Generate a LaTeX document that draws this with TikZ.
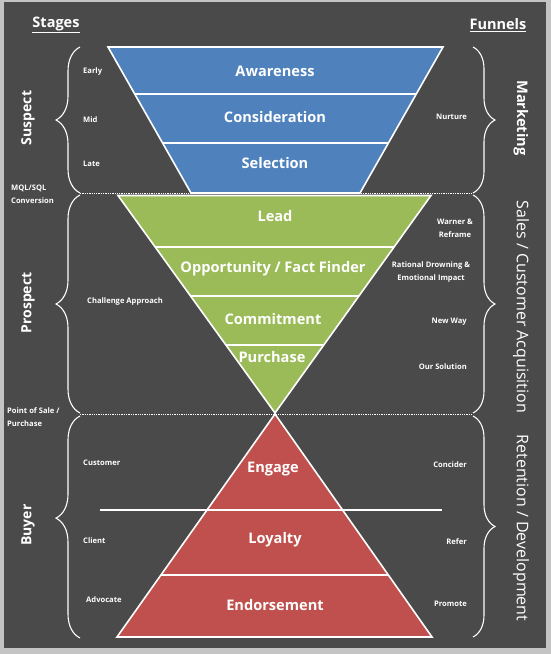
\documentclass[tikz,border=0pt]{standalone}
\usepackage{fontspec}
\setmainfont{Open Sans}
\usetikzlibrary{decorations.pathreplacing}

\definecolor{bgdark}{HTML}{4A4A4A}
\definecolor{edgegray}{HTML}{C4C4C4}
\definecolor{fblue}{HTML}{4F81BD}
\definecolor{fgreen}{HTML}{9BBB59}
\definecolor{fred}{HTML}{C0504D}

\begin{document}
\begin{tikzpicture}[x=1pt,y=-1pt,
  shape outline/.style={draw=white, line width=1.6pt, line join=miter},
  divider/.style={draw=white, line width=1.6pt},
  dotline/.style={draw=white, line width=1.3pt, dash pattern=on 1.3pt off 1pt},
  bracket/.style={draw=white, line width=1.1pt, decorate,
    decoration={brace, amplitude=#1}},
  bracket/.default=24pt,
  tierlabel/.style={text=white, font=\bfseries\fontsize{14.6}{16}\selectfont, inner sep=0pt},
  heading/.style={text=white, font=\bfseries\fontsize{14.5}{16}\selectfont, inner sep=0pt},
  stagename/.style={text=white, font=\bfseries\fontsize{14}{16}\selectfont, rotate=90, inner sep=0pt},
  funnelname/.style={text=white, font=\fontsize{16}{18}\selectfont, rotate=-90, inner sep=0pt},
  note/.style={text=white, font=\bfseries\fontsize{7.6}{13}\selectfont, inner sep=0pt},
]
\useasboundingbox (0,0) rectangle (551,654);

% frame and panel
\fill[edgegray] (0,0) rectangle (551,654);
\fill[bgdark] (4,2) rectangle (546,648);

% brace end points
\coordinate (lsT) at (80,47);   \coordinate (lsB) at (80,193);
\coordinate (lpT) at (80,195);  \coordinate (lpB) at (80,413);
\coordinate (lbT) at (80,416);  \coordinate (lbB) at (80,638);
\coordinate (rmT) at (473,47);  \coordinate (rmB) at (473,193);
\coordinate (rsT) at (473,195); \coordinate (rsB) at (473,413);
\coordinate (rrT) at (473,416); \coordinate (rrB) at (473,637);

% stage boundaries
\draw[dotline] (80,193.5) -- (473,193.5);
\draw[dotline] (80,414.5) -- (473,414.5);

% marketing funnel
\path[fill=fblue, shape outline] (108,47) -- (443,47) -- (360,193) -- (191,193) -- cycle;
\draw[divider] (134.7,94) -- (416.3,94);
\draw[divider] (162.6,143) -- (388.4,143);

% sales funnel
\path[fill=fgreen, shape outline] (118,195.5) -- (431,195.5) -- (275,413) -- cycle;
\draw[divider] (155.4,247) -- (393.8,247);
\draw[divider] (190.7,296) -- (358.7,296);
\draw[divider] (226,345) -- (323.7,345);

% retention pyramid
\path[fill=fred, shape outline] (275,414) -- (432,637) -- (117,637) -- cycle;
\draw[divider] (100,510) -- (442,510);
\draw[divider] (160.8,575) -- (388.6,575);

% braces
\draw[bracket] (lsB) -- (lsT);
\draw[bracket] (lpB) -- (lpT);
\draw[bracket, decoration={aspect=0.54}] (lbB) -- (lbT);
\draw[bracket=22pt] (rmT) -- (rmB);
\draw[bracket=22pt] (rsT) -- (rsB);
\draw[bracket=22pt, decoration={aspect=0.5}] (rrT) -- (rrB);

% headings
\node[heading] (stages) at (56,25) {\underline{Stages}};
\node[heading] (funnels) at (498,25) {\underline{Funnels}};

% tier labels
\node[tierlabel] (awareness) at (275,71) {Awareness};
\node[tierlabel] (consideration) at (275,117) {Consideration};
\node[tierlabel] (selection) at (275,163) {Selection};
\node[tierlabel] (lead) at (275,216) {Lead};
\node[tierlabel] (opportunity) at (273,269) {Opportunity / Fact Finder};
\node[tierlabel] (commitment) at (273,319) {Commitment};
\node[tierlabel] (purchase) at (272,357) {Purchase};
\node[tierlabel] (engage) at (273,469) {Engage};
\node[tierlabel] (loyalty) at (275,540) {Loyalty};
\node[tierlabel] (endorsement) at (275,605) {Endorsement};

% stage names
\node[stagename] (suspect) at (28,118) {Suspect};
\node[stagename] (prospect) at (28,303) {Prospect};
\node[stagename] (buyer) at (28,525) {Buyer};

% funnel names
\node[funnelname, font=\bfseries\fontsize{14.6}{16}\selectfont] (marketing) at (521,118) {Marketing};
\node[funnelname] (sales) at (521,307) {Sales / Customer Acquisition};
\node[funnelname] (retention) at (521,528) {Retention / Development};

% left notes
\node[note, anchor=west] (early) at (83,72) {Early};
\node[note, anchor=west] (mid) at (83,120) {Mid};
\node[note, anchor=west] (late) at (83,164) {Late};
\node[note, anchor=west, align=left] (mqlsql) at (11,194) {MQL/SQL\\Conversion};
\node[note, anchor=west] (challenge) at (87,302) {Challenge Approach};
\node[note, anchor=west, align=left] (pointofsale) at (7,417) {Point of Sale /\\Purchase};
\node[note, anchor=west] (customer) at (83,463) {Customer};
\node[note, anchor=west] (client) at (83,541) {Client};
\node[note, anchor=west] (advocate) at (86,600) {Advocate};

% right notes
\node[note, anchor=east] (nurture) at (467,117) {Nurture};
\node[note, align=center] (warner) at (455,228) {Warner \&\\Reframe};
\node[note, align=center] (rational) at (431,272) {Rational Drowning \&\\Emotional Impact};
\node[note, anchor=east] (newway) at (467,322) {New Way};
\node[note, anchor=east] (oursolution) at (467,367) {Our Solution};
\node[note, anchor=east] (concider) at (467,465) {Concider};
\node[note, anchor=east] (refer) at (467,542) {Refer};
\node[note, anchor=east] (promote) at (467,604) {Promote};
\end{tikzpicture}
\end{document}
